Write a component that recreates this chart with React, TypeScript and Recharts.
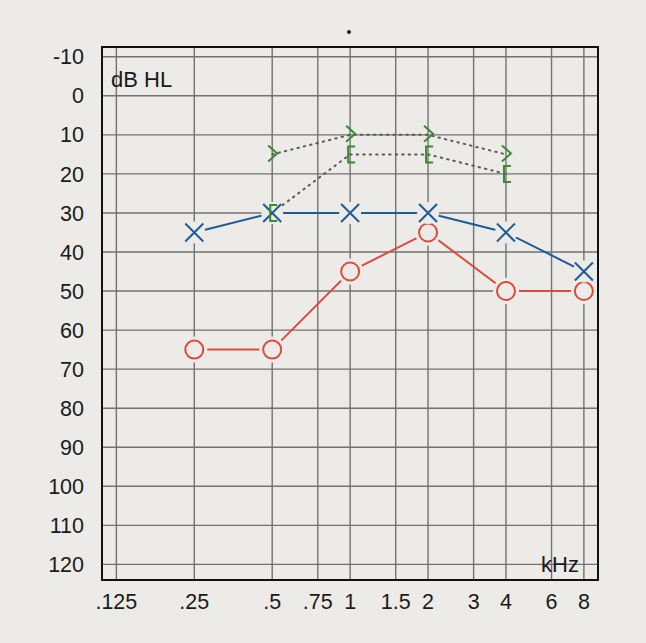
import { ComposedChart, Line, XAxis, YAxis, CartesianGrid, ReferenceArea } from 'recharts';

const FREQS = [0.125, 0.25, 0.5, 0.75, 1, 1.5, 2, 3, 4, 6, 8];
const FREQ_LABELS = ['.125', '.25', '.5', '.75', '1', '1.5', '2', '3', '4', '6', '8'];
const DB_TICKS = [-10, 0, 10, 20, 30, 40, 50, 60, 70, 80, 90, 100, 110, 120];

const AIR_FREQS = [0.25, 0.5, 1, 2, 4, 8];
const RIGHT_AIR = [65, 65, 45, 35, 50, 50];
const LEFT_AIR = [35, 30, 30, 30, 35, 45];

const BONE_FREQS = [0.5, 1, 2, 4];
const BONE_ANGLE = [15, 10, 10, 15];
const BONE_BRACKET = [30, 15, 15, 20];

const BG = '#ecebe8';
const RED = '#de4a3c';
const BLUE = '#1f5b95';
const GREEN = '#3b8a33';
const FONT = '"Liberation Sans", Arial, sans-serif';

const toRows = (freqs: number[], vals: number[]) => freqs.map((f, i) => ({ f, db: vals[i] }));

const circleDot = (p: any) => (
  <g key={`o-${p.index}`}>
    <circle cx={p.cx} cy={p.cy} r={13} fill={BG} />
    <circle cx={p.cx} cy={p.cy} r={9} fill="none" stroke={RED} strokeWidth={2} />
  </g>
);

const crossDot = (p: any) => (
  <g key={`x-${p.index}`}>
    <circle cx={p.cx} cy={p.cy} r={11} fill={BG} />
    <path
      d={`M${p.cx - 9},${p.cy - 9}L${p.cx + 9},${p.cy + 9}M${p.cx + 9},${p.cy - 9}L${p.cx - 9},${p.cy + 9}`}
      stroke={BLUE}
      strokeWidth={2}
      fill="none"
    />
  </g>
);

const angleDot = (p: any) => (
  <path
    key={`a-${p.index}`}
    d={`M${p.cx - 4},${p.cy - 9}L${p.cx + 5},${p.cy - 1}L${p.cx - 4},${p.cy + 7}`}
    stroke={GREEN}
    strokeWidth={2}
    fill="none"
  />
);

const bracketDot = (p: any) => (
  <path
    key={`b-${p.index}`}
    d={`M${p.cx + 5},${p.cy - 8}L${p.cx - 2},${p.cy - 8}L${p.cx - 2},${p.cy + 8}L${p.cx + 5},${p.cy + 8}`}
    stroke={GREEN}
    strokeWidth={2}
    fill="none"
  />
);

export default function App() {
  return (
    <div style={{ position: 'fixed', left: 0, top: 0, width: 646, height: 643, background: BG }}>
      <ComposedChart width={646} height={643} margin={{ top: 47, right: 48, bottom: 0, left: 0 }}>
        <CartesianGrid stroke="#727272" strokeWidth={1.4} />
        <XAxis
          type="number"
          dataKey="f"
          scale="log"
          domain={[0.11, 9.07]}
          allowDataOverflow
          ticks={FREQS}
          tickFormatter={(v: number) => FREQ_LABELS[FREQS.indexOf(v)] ?? ''}
          interval={0}
          axisLine={false}
          tickLine={false}
          tickSize={0}
          tickMargin={14}
          height={63}
          tick={{ fill: '#1a1a1a', fontSize: 21.5, fontFamily: FONT }}
        />
        <YAxis
          type="number"
          reversed
          domain={[-12.5, 124]}
          allowDataOverflow
          ticks={DB_TICKS}
          interval={0}
          axisLine={false}
          tickLine={false}
          tickSize={0}
          tickMargin={18}
          width={102}
          tick={{ fill: '#1a1a1a', fontSize: 21.5, fontFamily: FONT }}
        />
        <ReferenceArea x1={0.11} x2={9.07} y1={-12.5} y2={124} fill="none" stroke="#111" strokeWidth={2} ifOverflow="visible" />
        <Line data={toRows(AIR_FREQS, RIGHT_AIR)} dataKey="db" stroke={RED} strokeWidth={2} dot={circleDot} activeDot={false} isAnimationActive={false} />
        <Line data={toRows(AIR_FREQS, LEFT_AIR)} dataKey="db" stroke={BLUE} strokeWidth={2} dot={crossDot} activeDot={false} isAnimationActive={false} />
        <Line data={toRows(BONE_FREQS, BONE_ANGLE)} dataKey="db" stroke="#5a5a5a" strokeWidth={2} strokeDasharray="1.5 5" strokeLinecap="round" dot={angleDot} activeDot={false} isAnimationActive={false} />
        <Line data={toRows(BONE_FREQS, BONE_BRACKET)} dataKey="db" stroke="#5a5a5a" strokeWidth={2} strokeDasharray="1.5 5" strokeLinecap="round" dot={bracketDot} activeDot={false} isAnimationActive={false} />
      </ComposedChart>
      <div style={{ position: 'absolute', left: 111, top: 67, fontFamily: FONT, fontSize: 22, color: '#1a1a1a' }}>dB HL</div>
      <div style={{ position: 'absolute', left: 541, top: 552, fontFamily: FONT, fontSize: 22, color: '#1a1a1a' }}>kHz</div>
      <div style={{ position: 'absolute', left: 347, top: 30, width: 4, height: 4, borderRadius: 2, background: '#222' }} />
    </div>
  );
}
